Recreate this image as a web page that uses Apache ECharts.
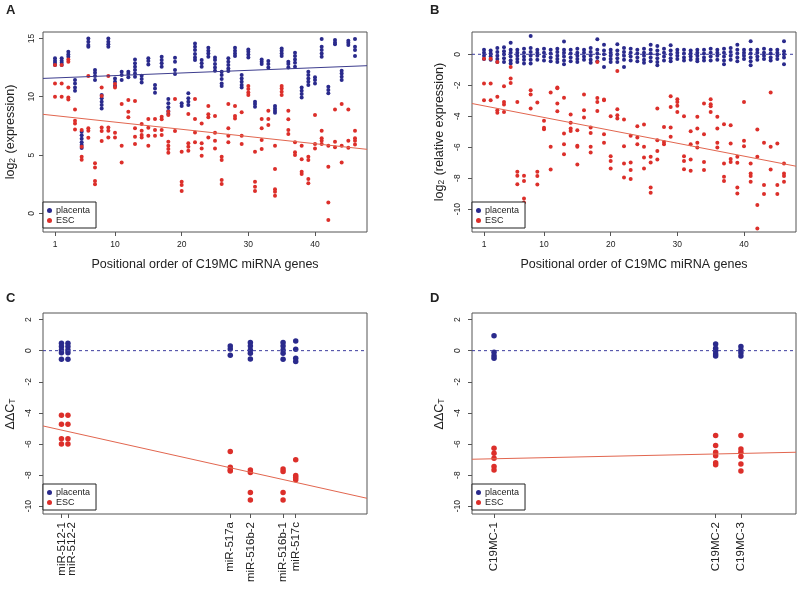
<!DOCTYPE html>
<html>
<head>
<meta charset="utf-8">
<script src="https://cdn.jsdelivr.net/npm/echarts@6/dist/echarts.min.js"></script>
<style>
html, body { margin: 0; background: #fff; }
#chart { width: 800px; height: 591px; }
</style>
</head>
<body>
<div id="chart"></div>
<script>
// ---- data ----
var geneTicks = [1, 10, 20, 30, 40];

// A: log2 expression per gene (1..46)
var aPlacenta = [
	[13.29,13.09,12.91,12.71], [13.29,13.09,12.91,12.71], [13.86,13.63,13.43], [11.43,11.14,10.8,10.51],
	[7.0,6.7,6.4,6.1,5.85,5.6], [15.0,14.71,14.43,14.29], [12.29,12.06,11.77,11.43], [10.14,9.86,9.57,9.29,9.0],
	[15.0,14.71,14.49,14.29], [11.57,11.29,10.91], [12.14,11.86,11.43], [12.14,11.94,11.66],
	[13.2,12.86,12.57,12.29,12.0,11.71], [11.8,11.51,11.23], [13.29,13.06,12.77], [11.0,10.71,10.34],
	[13.43,13.14,12.86,12.57], [9.8,9.43,9.09,8.77,8.51], [13.34,13.0,12.29,11.94], [9.43,9.2],
	[10.29,9.86,9.57,9.29], [14.57,14.29,14.0,13.66,13.37,13.14], [13.14,12.86,12.57], [14.2,13.94,13.71,13.43],
	[13.37,13.14,12.8,12.51,12.23], [12.14,11.86,11.51,11.14,10.91], [13.29,13.0,12.71,12.43,12.2], [14.2,13.94,13.71,13.49],
	[11.86,11.57,11.29,11.0,10.8], [14.06,13.86,13.63,13.37], [9.57,9.37,9.14], [13.2,13.0,12.8],
	[13.06,12.8,12.51], [9.2,9.0,8.8,8.63], [14.14,13.94,13.71,13.49], [13.0,12.8,12.51],
	[13.77,13.49,13.2,12.91,12.57], [10.8,10.51,10.23,9.94], [12.14,11.86,11.57,11.29,11.0], [11.66,11.43,11.14],
	[14.94,14.29,14.0,13.71,13.43], [10.86,10.57,10.29], [14.86,14.66,14.49], [12.23,12.0,11.71,11.43],
	[14.8,14.63,14.43], [14.94,14.29,14.0,13.49]
];
var aESC = [
	[12.71,11.14,10.0], [12.71,11.14,10.0], [13.2,13.0,10.8,9.94,9.77], [8.91,7.94,7.71,7.2],
	[7.14,5.71,4.86,4.6], [11.77,7.29,7.09,6.49], [4.29,3.94,2.77,2.49], [10.8,10.06,7.37,7.06,6.2],
	[11.77,7.37,7.09,6.51], [11.09,10.8,6.91,6.51], [9.37,5.8,4.37], [9.71,8.71,8.23],
	[9.63,7.29,6.57,5.94], [7.66,7.09,6.71,6.51], [8.09,7.34,6.66,5.8], [8.09,7.14,6.66],
	[8.29,8.06,7.14,6.71], [8.71,8.43,6.14,5.8,5.51,5.2], [9.8,7.06], [5.29,2.71,2.43,1.91],
	[8.51,6.0,5.71,5.37], [9.8,8.09,6.94,6.09], [7.71,6.0,5.57,4.94], [9.2,8.49,8.23,6.51],
	[8.34,6.91,6.23,5.57], [4.86,4.57,2.86,2.51], [9.37,7.29,6.66,6.09], [9.2,8.34,8.14],
	[8.66,6.66,5.94], [10.91,10.66,10.37,10.14], [5.29,2.71,2.29,1.91], [8.09,7.29,6.29,5.51],
	[8.8,8.09,7.57], [5.8,3.8,2.06,1.86,1.51], [10.91,10.71,10.43,10.14], [8.8,8.06,7.14,6.8],
	[6.09,5.23,5.0], [5.8,4.63,3.57,3.37], [4.86,4.57,2.94,2.57], [8.43,5.94,5.57],
	[7.09,6.43,6.23,5.94], [5.8,4.0,0.94,-0.57], [8.91,6.14,5.66], [9.37,5.8,4.37],
	[8.91,6.23,5.63], [7.09,6.43,6.23,5.91]
];
var aFitPlacenta = [11.57, 12.66];   // fit value at left / right edge
var aFitESC = [8.49, 5.49];

// B: log2 relative expression per gene
var bPlacenta = [
	[0.3,0.1,-0.1,-0.3], [0.25,0.05,-0.15,-0.35], [0.4,0.15,-0.1,-0.3,-0.5], [0.45,0.2,0,-0.25,-0.5],
	[0.75,0.3,0.1,-0.15,-0.4,-0.6], [0.3,0.1,-0.1,-0.3,-0.5], [0.35,0.1,-0.15,-0.35,-0.6], [1.18,0.4,0.15,-0.1,-0.35,-0.6],
	[0.3,0.1,-0.1,-0.35], [0.35,0.1,-0.15,-0.4], [0.3,0.05,-0.2,-0.45], [0.35,0.15,-0.1,-0.3,-0.5],
	[0.82,0.3,0.1,-0.15,-0.4,-0.65], [0.3,0.05,-0.2,-0.45], [0.35,0.1,-0.1,-0.3,-0.5], [0.3,0.1,-0.15,-0.35],
	[0.4,0.15,-0.1,-0.35,-0.55], [0.97,0.3,0.05,-0.2,-0.45], [0.62,0.25,0,-0.3,-0.82], [0.3,0.1,-0.1,-0.3,-0.5],
	[0.65,0.25,0,-0.25,-0.5], [0.4,0.15,-0.1,-0.35,-0.82], [0.35,0.1,-0.15,-0.4], [0.3,0.05,-0.2,-0.45],
	[0.35,0.1,-0.1,-0.35,-0.55], [0.62,0.3,0.05,-0.2,-0.45], [0.54,0.25,0,-0.25,-0.5,-0.7], [0.35,0.1,-0.15,-0.4],
	[0.58,0.25,0,-0.25,-0.45], [0.3,0.1,-0.1,-0.3], [0.3,0.05,-0.2,-0.4], [0.25,0.05,-0.15,-0.35],
	[0.3,0.1,-0.1,-0.3,-0.45], [0.3,0.05,-0.2,-0.4], [0.35,0.1,-0.15,-0.4], [0.3,0.1,-0.1,-0.35],
	[0.35,0.1,-0.15,-0.4,-0.65], [0.4,0.15,-0.1,-0.35], [0.62,0.3,0.05,-0.2,-0.45], [0.3,0.1,-0.1,-0.3],
	[0.84,0.3,0.05,-0.2,-0.45,-0.7], [0.3,0.1,-0.15,-0.35], [0.35,0.1,-0.1,-0.3], [0.3,0.05,-0.2,-0.4],
	[0.3,0.1,-0.1,-0.3], [0.84,0.2,0,-0.2,-0.65]
];
var bESC = [
	[-0.28,-1.89,-2.97], [-0.28,-1.89,-2.97], [-0.5,-2.75,-3.61,-3.78], [-2.06,-3.08,-3.25,-3.72],
	[-0.82,-1.57,-1.85], [-3.08,-7.59,-7.85,-8.39], [-7.85,-8.19,-9.31,-9.57], [-2.32,-2.6,-3.5],
	[-3.12,-7.59,-7.87,-8.41], [-4.3,-4.75,-4.84], [-2.47,-5.98,-7.44], [-2.15,-2.2,-3.18,-3.68],
	[-2.8,-5.12,-5.81,-6.45], [-3.89,-4.43,-4.8,-4.95], [-4.9,-5.91,-5.98,-7.12], [-2.6,-3.61,-4.09],
	[-4.73,-5.08,-5.98,-6.34], [-0.49,-2.82,-3.08,-3.66], [-2.92,-2.97,-5.16,-5.72], [-4.0,-6.58,-6.9,-7.38],
	[-1.08,-3.55,-3.94,-4.15], [-4.21,-5.94,-7.05,-7.96], [-5.27,-6.99,-7.48,-8.06], [-4.65,-5.38,-5.81],
	[-4.54,-5.98,-6.67,-7.38], [-6.62,-6.99,-8.6,-8.95], [-3.5,-5.55,-6.24,-6.8], [-4.69,-5.66,-5.81],
	[-2.71,-3.4,-4.73,-5.33], [-2.9,-3.08,-3.33,-3.72], [-4.0,-6.58,-6.9,-7.42], [-4.97,-5.81,-6.8,-7.53],
	[-4.04,-4.8,-5.72,-6.02], [-3.18,-5.16,-6.95,-7.48], [-2.9,-3.23,-3.35,-3.72], [-4.04,-4.8,-5.72,-6.02],
	[-4.52,-7.05,-7.91,-8.19], [-4.58,-5.76,-6.77,-6.95], [-6.62,-7.01,-8.6,-8.99], [-3.08,-5.59,-5.94],
	[-7.05,-7.7,-7.87,-8.24], [-4.86,-6.62,-9.74,-11.25], [-5.72,-8.45,-9.03], [-2.47,-5.98,-7.44],
	[-5.76,-8.45,-9.03], [-7.05,-7.7,-7.87,-8.24]
];
var bFitESC = [-3.18, -7.23];

// C: qPCR per miRNA (x = position along the cluster, 0..100)
var cGenes = ['miR-512-1', 'miR-512-2', 'miR-517a', 'miR-516b-2', 'miR-516b-1', 'miR-517c'];
var cPos = [5.7, 7.7, 57.8, 64.0, 74.1, 78.0];
var cPlacenta = [
	[0.47,0.26,0.04,-0.13,-0.56], [0.47,0.26,0.04,-0.13,-0.56], [0.3,0.1,-0.3],
	[0.53,0.3,0.04,-0.17,-0.54], [0.53,0.3,0.04,-0.17,-0.56], [0.62,0.09,-0.49,-0.7]
];
var cESC = [
	[-4.15,-4.73,-5.67,-6.0], [-4.15,-4.73,-5.67,-6.0], [-6.49,-7.5,-7.67,-7.73],
	[-7.67,-7.84,-9.12,-9.6], [-7.6,-7.77,-9.12,-9.6], [-7.02,-8.03,-8.16,-8.3]
];
var cFitESC = [-4.84, -9.49];

// D: qPCR per C19MC region
var dGenes = ['C19MC-1', 'C19MC-2', 'C19MC-3'];
var dPos = [6.8, 75.2, 83.0];
var dPlacenta = [
	[0.96,-0.1,-0.32,-0.49], [0.43,0.15,-0.02,-0.21,-0.34], [0.26,0.04,-0.13,-0.34]
];
var dESC = [
	[-6.27,-6.6,-6.92,-7.45,-7.67], [-5.46,-6.1,-6.53,-6.75,-7.2,-7.34], [-5.46,-6.32,-6.53,-6.8,-7.28,-7.73]
];
var dFitESC = [-6.98, -6.53];

var aTicksY = [0, 5, 10, 15];
var bTicksY = [0, -2, -4, -6, -8, -10];
var cdTicksY = [2, 0, -2, -4, -6, -8, -10];

// ---- helpers ----
var BLUE = '#2a2a8c';
var RED = '#dc2f2a';
var FONT = 'Liberation Sans, Arial, sans-serif';

function toPoints(xs, groups) {
	var pts = [];
	groups.forEach(function(g, i) {
		g.forEach(function(v) { pts.push([xs[i], v]); });
	});
	return pts;
}
function geneIdx(n) {
	var r = [];
	for (var i = 1; i <= n; i++) r.push(i);
	return r;
}

var grids = [
	{ left: 43, top: 32, width: 324, height: 200 },
	{ left: 472, top: 32, width: 324, height: 200 },
	{ left: 43, top: 313, width: 324, height: 201 },
	{ left: 472, top: 313, width: 324, height: 201 }
].map(function(g) {
	g.show = true; g.borderColor = '#555'; g.borderWidth = 1; g.backgroundColor = 'transparent';
	return g;
});

// tickVals: where ticks go; labelVals: where labels go (null = no ticks / labels)
function xAxisFor(gi, min, max, tickVals, labelVals, labels, isRot) {
	return {
		type: 'value', gridIndex: gi, min: min, max: max, position: 'bottom',
		axisLine: { show: false, onZero: false },
		splitLine: { show: false },
		axisTick: { show: !!tickVals, length: 4, customValues: tickVals || [], lineStyle: { color: '#555' } },
		axisLabel: {
			show: !!labelVals, customValues: labelVals || [], color: '#222', fontFamily: FONT, hideOverlap: false,
			fontSize: isRot ? 11.5 : 8.5, rotate: isRot ? 90 : 0, margin: 8,
			formatter: function(v) {
				var k = labelVals.indexOf(v);
				return labels ? labels[k] : String(v);
			}
		},
		name: isRot ? '' : 'Positional order of C19MC miRNA genes',
		nameLocation: 'middle', nameGap: 26,
		nameTextStyle: { fontSize: 12.5, color: '#222', fontFamily: FONT }
	};
}
function yAxisFor(gi, min, max, ticks, name, gap, margin) {
	return {
		type: 'value', gridIndex: gi, min: min, max: max,
		axisLine: { show: false, onZero: false },
		splitLine: { show: false },
		axisTick: { show: true, length: 4, customValues: ticks, lineStyle: { color: '#555' } },
		axisLabel: { customValues: ticks, rotate: 90, fontSize: 8.5, color: '#222', fontFamily: FONT, margin: margin, hideOverlap: false },
		name: name, nameLocation: 'middle', nameGap: gap,
		nameTextStyle: {
			fontSize: 12.5, color: '#222', fontFamily: FONT,
			rich: { s: { fontSize: 8.5, color: '#222', fontFamily: FONT, verticalAlign: 'bottom', padding: [0, 1, 0, 0] } }
		}
	};
}
function dots(name, gi, pts, color, size) {
	return {
		type: 'scatter', name: name, xAxisIndex: gi, yAxisIndex: gi, data: pts,
		symbolSize: size, itemStyle: { color: color, opacity: 1 }, silent: true, z: 2
	};
}
function fitLine(gi, x0, x1, ends, color, dashed) {
	return {
		type: 'line', xAxisIndex: gi, yAxisIndex: gi, data: [[x0, ends[0]], [x1, ends[1]]],
		symbol: 'none', silent: true, z: 3,
		lineStyle: { color: color, width: 1, type: dashed ? [3, 3] : 'solid' }
	};
}
function legendAt(left, top) {
	return {
		left: left, top: top, orient: 'vertical', data: ['placenta', 'ESC'],
		icon: 'circle', itemWidth: 5, itemHeight: 5, itemGap: 1,
		padding: [4, 6, 3, 4], borderColor: '#222', borderWidth: 1, borderRadius: 0,
		backgroundColor: '#fff', selectedMode: false,
		textStyle: { fontSize: 9, color: '#222', fontFamily: FONT, padding: [0, 0, 0, -1] }
	};
}

var xA = geneIdx(46);
// the two miR-512 labels sit too close for one axis: each gets its own label-only axis,
// the second nudged a little to the right as in the original figure
var cLab1 = [cPos[0]];
var cLab2 = [cPos[1] + 1.05];
var cLabRest = cPos.slice(2);

var chart = echarts.init(document.getElementById('chart'));
chart.setOption({
	animation: false,
	backgroundColor: '#fff',
	textStyle: { fontFamily: FONT },
	grid: grids,
	xAxis: [
		xAxisFor(0, -0.8, 47.8, geneTicks, geneTicks, null, false),
		xAxisFor(1, -0.8, 47.8, geneTicks, geneTicks, null, false),
		xAxisFor(2, 0, 100, cPos, cLabRest, cGenes.slice(2), true),
		xAxisFor(3, 0, 100, dPos, dPos, dGenes, true),
		xAxisFor(2, 0, 100, null, cLab1, cGenes.slice(0, 1), true),
		xAxisFor(2, 0, 100, null, cLab2, cGenes.slice(1, 2), true)
	],
	yAxis: [
		yAxisFor(0, -1.6, 15.55, aTicksY, 'log{s|2} (expression)', 26, 7),
		yAxisFor(1, -11.48, 1.44, bTicksY, 'log{s|2} (relative expression)', 26, 10),
		yAxisFor(2, -10.5, 2.42, cdTicksY, 'ΔΔC{s|T}', 26, 10),
		yAxisFor(3, -10.5, 2.42, cdTicksY, 'ΔΔC{s|T}', 26, 10)
	],
	legend: [legendAt(43, 202), legendAt(472, 202), legendAt(43, 484), legendAt(472, 484)],
	graphic: [
		{ type: 'text', left: 6, top: 4, style: { text: 'A', font: 'bold 13px ' + FONT, fill: '#222' } },
		{ type: 'text', left: 430, top: 4, style: { text: 'B', font: 'bold 13px ' + FONT, fill: '#222' } },
		{ type: 'text', left: 6, top: 292, style: { text: 'C', font: 'bold 13px ' + FONT, fill: '#222' } },
		{ type: 'text', left: 430, top: 292, style: { text: 'D', font: 'bold 13px ' + FONT, fill: '#222' } }
	],
	series: [
		dots('placenta', 0, toPoints(xA, aPlacenta), BLUE, 4),
		dots('ESC', 0, toPoints(xA, aESC), RED, 4),
		fitLine(0, -0.8, 47.8, aFitPlacenta, '#3d3d8e', false),
		fitLine(0, -0.8, 47.8, aFitESC, '#e2664f', false),

		dots('placenta', 1, toPoints(xA, bPlacenta), BLUE, 4),
		dots('ESC', 1, toPoints(xA, bESC), RED, 4),
		fitLine(1, -0.8, 47.8, [0, 0], '#3d3d9e', true),
		fitLine(1, -0.8, 47.8, bFitESC, '#e2664f', false),

		dots('placenta', 2, toPoints(cPos, cPlacenta), BLUE, 5.5),
		dots('ESC', 2, toPoints(cPos, cESC), RED, 5.5),
		fitLine(2, 0, 100, [0, 0], '#3d3d9e', true),
		fitLine(2, 0, 100, cFitESC, '#e2664f', false),

		dots('placenta', 3, toPoints(dPos, dPlacenta), BLUE, 5.5),
		dots('ESC', 3, toPoints(dPos, dESC), RED, 5.5),
		fitLine(3, 0, 100, [0, 0], '#3d3d9e', true),
		fitLine(3, 0, 100, dFitESC, '#e2664f', false)
	]
});
</script>
</body>
</html>
